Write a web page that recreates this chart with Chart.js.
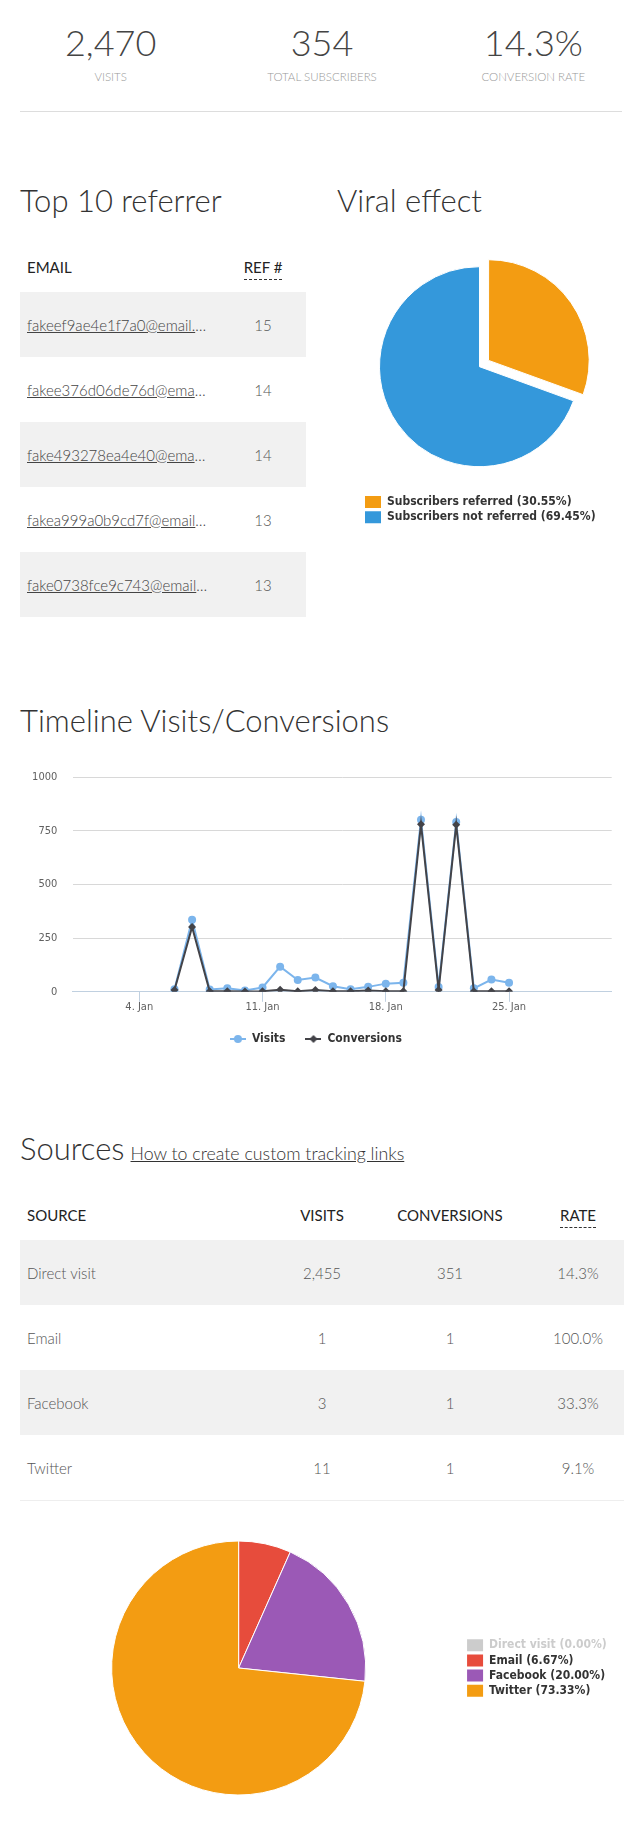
<!DOCTYPE html>
<html>
<head>
<meta charset="utf-8">
<title>Campaign stats</title>
<script src="https://cdn.jsdelivr.net/npm/chart.js@4.4.1/dist/chart.umd.min.js"></script>
<style>
  html, body { margin: 0; padding: 0; background: #fff; }
  body { width: 642px; height: 1832px; position: relative; overflow: hidden; font-family: Lato, "Open Sans", sans-serif; color: #333; }
  .stats { position: absolute; top: 0; left: 5px; width: 634px; display: flex; }
  .stat { width: 211.33px; text-align: center; padding-top: 20.5px; }
  .stat .num { font-size: 36px; line-height: 1.2; font-weight: 300; color: #444; }
  .stat .lbl { font-size: 11.5px; line-height: 1.2; font-weight: 300; color: #999; margin-top: 6.5px; }
  .divider { position: absolute; top: 111px; left: 20px; width: 602px; border-top: 1px solid #ddd; }
  h2 { position: absolute; margin: 0; font-size: 31px; line-height: 1.2; font-weight: 300; color: #333; white-space: nowrap; }
  h2 a { font-size: 17.8px; font-weight: 300; color: #333; margin-left: 6px; }
  table { position: absolute; border-collapse: collapse; table-layout: fixed; }
  th { font-size: 15px; line-height: 1.2; font-weight: 400; color: #222; vertical-align: bottom; padding: 0 7px 16px; text-align: left; }
  td { height: 65px; padding: 0 7px; font-size: 15px; line-height: 1.2; font-weight: 300; color: #555; vertical-align: middle; }
  tbody tr:nth-child(odd) td { background: #f1f1f1; }
  th.c, td.c { text-align: center; }
  .rate { padding-left: 16px; padding-right: 0; }
  abbr { text-decoration: none; border-bottom: 1px dashed #333; padding-bottom: 3px; }
  td.email { overflow: hidden; white-space: nowrap; text-overflow: ellipsis; padding-right: 12px; color: #444; }
  td.email a { color: #444; text-decoration: underline; }
  table.sources tbody tr:last-child td { border-bottom: 1px solid #eee; }
  canvas { position: absolute; }
</style>
</head>
<body>

<div class="stats">
  <div class="stat"><div class="num">2,470</div><div class="lbl">VISITS</div></div>
  <div class="stat"><div class="num">354</div><div class="lbl">TOTAL SUBSCRIBERS</div></div>
  <div class="stat"><div class="num">14.3%</div><div class="lbl">CONVERSION RATE</div></div>
</div>
<div class="divider"></div>

<h2 style="top:182px; left:20px">Top 10 referrer</h2>
<h2 style="top:182px; left:337px">Viral effect</h2>

<table class="refs" style="top:250px; left:20px; width:286px">
  <colgroup><col style="width:200px"><col style="width:86px"></colgroup>
  <thead>
    <tr style="height:42px"><th>EMAIL</th><th class="c"><abbr>REF #</abbr></th></tr>
  </thead>
  <tbody>
    <tr><td class="email"><a href="#">fakeef9ae4e1f7a0@email.com</a></td><td class="c">15</td></tr>
    <tr><td class="email"><a href="#">fakee376d06de76d@email.com</a></td><td class="c">14</td></tr>
    <tr><td class="email"><a href="#">fake493278ea4e40@email.com</a></td><td class="c">14</td></tr>
    <tr><td class="email"><a href="#">fakea999a0b9cd7f@email.com</a></td><td class="c">13</td></tr>
    <tr><td class="email"><a href="#">fake0738fce9c743@email.com</a></td><td class="c">13</td></tr>
  </tbody>
</table>

<canvas id="viralChart" width="285" height="294" style="left:337px; top:240px"></canvas>

<h2 style="top:702px; left:20px">Timeline Visits/Conversions</h2>
<canvas id="timelineChart" width="604" height="301" style="left:20px; top:755px"></canvas>

<h2 style="top:1130px; left:20px">Sources<a href="#">How to create custom tracking links</a></h2>

<table class="sources" style="top:1190px; left:20px; width:604px">
  <colgroup><col style="width:240px"><col style="width:124px"><col style="width:132px"><col style="width:108px"></colgroup>
  <thead>
    <tr style="height:50px"><th>SOURCE</th><th class="c">VISITS</th><th class="c">CONVERSIONS</th><th class="c rate"><abbr>RATE</abbr></th></tr>
  </thead>
  <tbody>
    <tr><td>Direct visit</td><td class="c">2,455</td><td class="c">351</td><td class="c rate">14.3%</td></tr>
    <tr><td>Email</td><td class="c">1</td><td class="c">1</td><td class="c rate">100.0%</td></tr>
    <tr><td>Facebook</td><td class="c">3</td><td class="c">1</td><td class="c rate">33.3%</td></tr>
    <tr><td>Twitter</td><td class="c">11</td><td class="c">1</td><td class="c rate">9.1%</td></tr>
  </tbody>
</table>

<canvas id="sourcesChart" width="624" height="296" style="left:0; top:1520px"></canvas>

<script>
// viral effect pie
const viralLabels = ["Subscribers referred", "Subscribers not referred"];
const viralShare = [30.55, 69.45];
const viralColors = ["#f39c12", "#3498db"];

// timeline (day of January)
const timelineDays = [6, 7, 8, 9, 10, 11, 12, 13, 14, 15, 16, 17, 18, 19, 20, 21, 22, 23, 24, 25];
const timelineVisits = [12, 335, 11, 17, 6, 20, 117, 55, 66, 26, 12, 23, 38, 42, 801, 22, 790, 16, 57, 42];
const timelineConversions = [8, 302, 2, 2, 1, 2, 9, 2, 8, 3, 2, 6, 3, 3, 780, 8, 778, 2, 3, 3];
const timelineXTicks = [4, 11, 18, 25];
const timelineYTicks = [0, 250, 500, 750, 1000];

// sources pie
const sourceLabels = ["Direct visit", "Email", "Facebook", "Twitter"];
const sourceShare = [0, 1, 3, 11];
const sourceColors = ["#3498db", "#e74c3c", "#9b59b6", "#f39c12"];

const LEGEND_FONT = "'DejaVu Sans Condensed', 'DejaVu Sans', sans-serif";

Chart.defaults.animation = false;
Chart.defaults.font.family = LEGEND_FONT;
Chart.defaults.plugins.tooltip.enabled = false;

const $ = (id) => document.getElementById(id);

function pctLabel(label, v, total){
  return `${label} (${(v / total * 100).toFixed(2)}%)`;
}

// small line + marker glyph, like the highcharts legend
function legendSymbol(color, style){
  const c = document.createElement("canvas");
  c.width = 16;
  c.height = 10;
  const g = c.getContext("2d");
  g.strokeStyle = color;
  g.fillStyle = color;
  g.lineWidth = 2;
  g.beginPath();
  g.moveTo(0, 5);
  g.lineTo(16, 5);
  g.stroke();
  g.beginPath();
  if (style === "rectRot") {
    g.moveTo(8, 1); g.lineTo(12, 5); g.lineTo(8, 9); g.lineTo(4, 5); g.closePath();
  } else {
    g.arc(8, 5, 4, 0, Math.PI * 2);
  }
  g.fill();
  return c;
}

function pieLegend(labels, values, colors, greyZero){
  const total = values.reduce((s, v) => s + v, 0);
  return () => labels.map((l, i) => {
    const off = greyZero && values[i] === 0;
    return {
      text: pctLabel(l, values[i], total),
      fillStyle: off ? "#cccccc" : colors[i],
      strokeStyle: off ? "#cccccc" : colors[i],
      lineWidth: 0,
      fontColor: off ? "#cccccc" : "#333333",
      hidden: false,
      index: i
    };
  });
}

// ==============================
// VIRAL EFFECT
// ==============================
new Chart($("viralChart"), {
  type: "pie",
  data: {
    labels: viralLabels,
    datasets: [{
      data: viralShare,
      backgroundColor: viralColors,
      borderColor: "#ffffff",
      borderWidth: 1,
      radius: 100,
      offset: [44, 0]
    }]
  },
  options: {
    responsive: false,
    layout: { padding: { left: 24.7, right: 24.7, top: 0.7, bottom: 0.7 } },
    plugins: {
      legend: {
        position: "bottom",
        align: "start",
        labels: {
          boxWidth: 16,
          boxHeight: 12,
          padding: 3.3,
          color: "#333",
          font: { size: 12, weight: "bold" },
          generateLabels: pieLegend(viralLabels, viralShare, viralColors, false)
        }
      }
    }
  }
});

// ==============================
// TIMELINE
// ==============================
new Chart($("timelineChart"), {
  type: "line",
  data: {
    datasets: [
      {
        label: "Visits",
        data: timelineDays.map((d, i) => ({ x: d, y: timelineVisits[i] })),
        borderColor: "#7cb5ec",
        backgroundColor: "#7cb5ec",
        borderWidth: 2,
        pointStyle: "circle",
        pointRadius: 4,
        pointBorderWidth: 0,
        tension: 0,
        order: 1
      },
      {
        label: "Conversions",
        data: timelineDays.map((d, i) => ({ x: d, y: timelineConversions[i] })),
        borderColor: "#434348",
        backgroundColor: "#434348",
        borderWidth: 2,
        pointStyle: "rectRot",
        pointRadius: 4,
        pointBorderWidth: 0,
        tension: 0,
        order: 0
      }
    ]
  },
  options: {
    responsive: false,
    layout: { padding: { top: 19.3, right: 12.3, bottom: 1, left: 0 } },
    scales: {
      x: {
        type: "linear",
        min: 0.22,
        max: 30.83,
        afterBuildTicks: (s) => { s.ticks = timelineXTicks.map(v => ({ value: v })); },
        ticks: {
          autoSkip: false,
          maxRotation: 0,
          padding: -1,
          color: "#606060",
          font: { size: 11 },
          callback: (v) => `${v}. Jan`
        },
        grid: { drawOnChartArea: false, tickLength: 10, color: "#C0D0E0" },
        border: { color: "#C0D0E0" }
      },
      y: {
        min: 0,
        max: 1000,
        afterBuildTicks: (s) => { s.ticks = timelineYTicks.map(v => ({ value: v })); },
        afterFit: (s) => { s.width = 52.7; },
        ticks: { padding: 15.4, color: "#606060", font: { size: 11 }, callback: (v) => String(v) },
        grid: { color: "#D8D8D8", drawTicks: false },
        border: { display: false }
      }
    },
    plugins: {
      legend: {
        position: "bottom",
        labels: {
          usePointStyle: true,
          pointStyleWidth: 16,
          boxHeight: 12,
          padding: 20,
          color: "#333",
          font: { size: 12, weight: "bold" },
          generateLabels: (chart) => chart.data.datasets.map((ds, i) => ({
            text: ds.label,
            datasetIndex: i,
            fillStyle: ds.borderColor,
            strokeStyle: ds.borderColor,
            lineWidth: 0,
            hidden: false,
            fontColor: "#333333",
            pointStyle: legendSymbol(ds.borderColor, ds.pointStyle)
          }))
        }
      }
    }
  }
});

// ==============================
// SOURCES
// ==============================
new Chart($("sourcesChart"), {
  type: "pie",
  data: {
    labels: sourceLabels,
    datasets: [{
      data: sourceShare,
      backgroundColor: sourceColors,
      borderColor: "#ffffff",
      borderWidth: 1,
      radius: 127
    }]
  },
  options: {
    responsive: false,
    layout: { padding: { left: 13.4, right: 7.2, top: 0, bottom: 0 } },
    plugins: {
      legend: {
        position: "right",
        labels: {
          boxWidth: 16,
          boxHeight: 12,
          padding: 3.2,
          color: "#333",
          font: { size: 12, weight: "bold" },
          generateLabels: pieLegend(sourceLabels, sourceShare, sourceColors, true)
        }
      }
    }
  }
});
</script>
</body>
</html>
